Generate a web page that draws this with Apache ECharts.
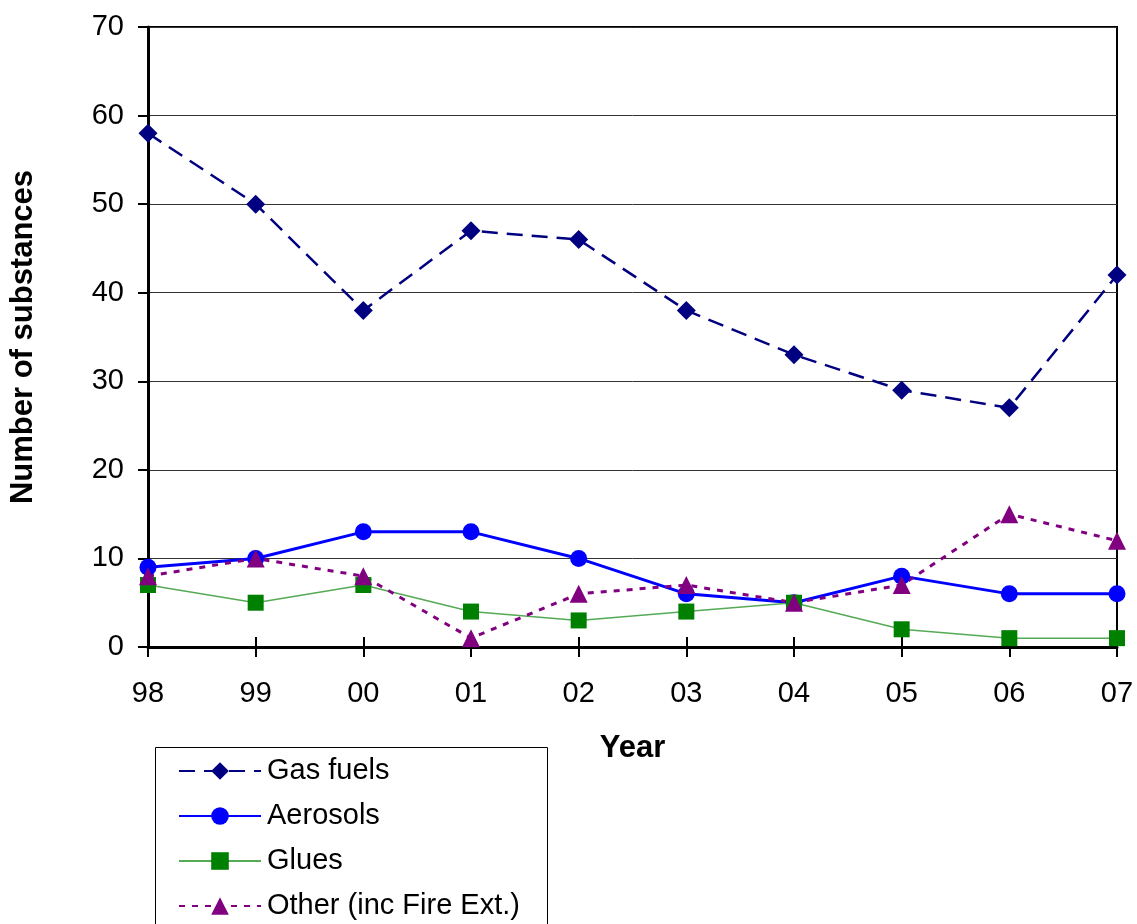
<!DOCTYPE html>
<html><head><meta charset="utf-8">
<script src="https://cdn.jsdelivr.net/npm/echarts@6/dist/echarts.min.js"></script>
<style>html,body{margin:0;padding:0;background:#fff;}#c{width:1137px;height:924px;}</style>
</head><body><div id="c"></div>
<script>
const years = ['98','99','00','01','02','03','04','05','06','07'];
const gasFuels = [58,50,38,47,46,38,33,29,27,42];
const aerosols = [9,10,13,13,10,6,5,8,6,6];
const glues = [7,5,7,4,3,4,5,2,1,1];
const other = [8,10,8,1,6,7,5,7,15,12];
const seriesNames = ['Gas fuels','Aerosols','Glues','Other (inc Fire Ext.)'];

const F = 'Liberation Sans, Arial, sans-serif';
const legendTops = [754,799,844,889];
const legends = seriesNames.map((n,i)=>({
  orient:'vertical',left:178,top:legendTops[i],itemWidth:82,itemHeight:22,padding:0,
  textStyle:{color:'#000',fontFamily:F,fontSize:29,lineHeight:34,padding:[0,0,0,1]},
  data:[n]
}));
const chart = echarts.init(document.getElementById('c'));
chart.setOption({
  animation:false,
  backgroundColor:'#fff',
  grid:{left:148,right:20,top:27,bottom:277,show:true,borderColor:'#000',borderWidth:2,outerBoundsMode:'none',containLabel:false},
  xAxis:[{
    type:'category',data:years,boundaryGap:false,
    axisLine:{lineStyle:{color:'#000',width:3}},
    axisTick:{length:10,lineStyle:{color:'#000',width:2}},
    axisLabel:{color:'#000',fontFamily:F,fontSize:29,margin:32},
    name:'Year',nameLocation:'middle',nameGap:86,nameMoveOverlap:false,
    nameTextStyle:{color:'#000',fontFamily:F,fontSize:31,fontWeight:'bold'}
  },{
    type:'category',data:years,boundaryGap:false,position:'bottom',
    axisLine:{show:false},
    axisTick:{inside:true,length:10,lineStyle:{color:'#000',width:2}},
    axisLabel:{show:false}
  }],
  yAxis:{
    type:'value',min:0,max:70,interval:10,
    axisLine:{show:true,lineStyle:{color:'#000',width:3}},
    axisTick:{show:true,length:10,lineStyle:{color:'#000',width:2}},
    axisLabel:{color:'#000',fontFamily:F,fontSize:29,margin:24},
    splitLine:{lineStyle:{color:'#333',width:1}},
    name:'Number of substances',nameLocation:'middle',nameGap:109,nameRotate:90,nameMoveOverlap:false,
    nameTextStyle:{color:'#000',fontFamily:F,fontSize:31,fontWeight:'bold'}
  },
  legend:legends,
  graphic:[{type:'rect',left:153,top:745,shape:{width:392,height:200},
    style:{fill:'none',stroke:'#000',lineWidth:1},z:-1}],
  series:[
    {name:seriesNames[0],type:'line',data:gasFuels,symbol:'diamond',symbolSize:19,
     itemStyle:{color:'#000080'},lineStyle:{color:'#000080',width:2.5,type:[16,9]}},
    {name:seriesNames[1],type:'line',data:aerosols,symbol:'circle',symbolSize:17,
     itemStyle:{color:'#0000ff'},lineStyle:{color:'#0000ff',width:3}},
    {name:seriesNames[2],type:'line',data:glues,symbol:'rect',symbolSize:16,
     itemStyle:{color:'#008000'},lineStyle:{color:'#55aa55',width:1.5}},
    {name:seriesNames[3],type:'line',data:other,symbol:'triangle',symbolSize:18,
     itemStyle:{color:'#800080'},lineStyle:{color:'#800080',width:3,type:[6,7]}}
  ]
});
</script></body></html>
